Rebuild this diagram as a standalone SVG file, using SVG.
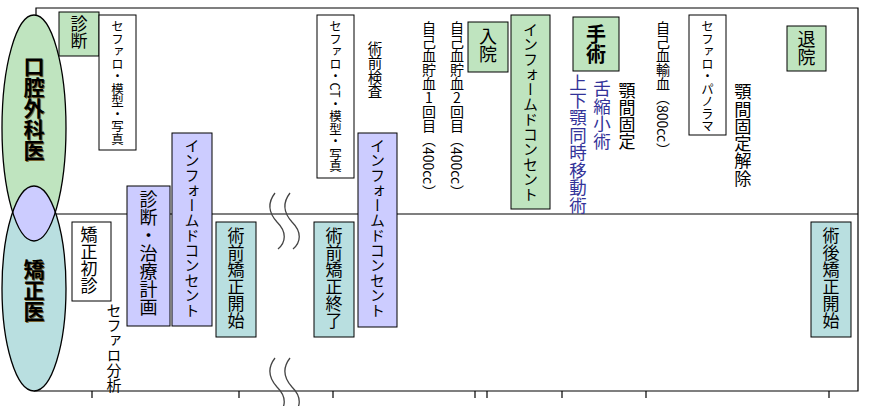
<svg xmlns="http://www.w3.org/2000/svg" width="875" height="406" viewBox="0 0 875 406">
<style>
.bx{stroke:#000;stroke-width:1}
.g{fill:#BFE4BF}
.p{fill:#CCCCFF}
.t{fill:#B9DFE0}
.w{fill:#fff}
.v{writing-mode:vertical-rl;font-family:"Noto Sans CJK JP","Noto Sans CJK SC",sans-serif;fill:#000}
.up{text-orientation:upright}
.blue{fill:#333399}
.ln{stroke:#000;stroke-width:1.2;fill:none}
.wave{stroke:#444;stroke-width:1.3;fill:none}
.head{font-weight:bold;font-size:21px}
</style>
<defs>
<clipPath id="topClip"><ellipse cx="34" cy="128" rx="32" ry="113"/></clipPath>
</defs>
<rect width="875" height="406" fill="#fff"/>
<g id="frame">
<polyline class="ln" points="36,16 36,8 858,8 858,391 34,391"/>
<line class="ln" x1="55" y1="214" x2="858" y2="214"/>
<g class="ln">
<line x1="92" y1="391" x2="92" y2="398"/>
<line x1="239" y1="391" x2="239" y2="398"/>
<line x1="333" y1="391" x2="333" y2="398"/>
<line x1="475" y1="391" x2="475" y2="398"/>
<line x1="487" y1="391" x2="487" y2="398"/>
<line x1="562" y1="391" x2="562" y2="398"/>
<line x1="646" y1="391" x2="646" y2="398"/>
<line x1="829" y1="391" x2="829" y2="398"/>
</g>
</g>
<g id="connectors">
<path class="wave" d="M275,193 C268,202 268,212 277,222 C287,232 286,242 278,249"/>
<path class="wave" d="M290,193 C283,202 283,212 292,222 C302,232 301,242 293,249"/>
<path class="wave" d="M275,358 C268,367 268,377 277,387 C287,397 286,407 278,414"/>
<path class="wave" d="M290,358 C283,367 283,377 292,387 C302,397 301,407 293,414"/>
</g>
<g id="roles">
<ellipse cx="34" cy="128" rx="32" ry="113" fill="#BFE4BF"/>
<ellipse cx="34" cy="288.5" rx="32" ry="102.5" fill="#B9DFE0"/>
<ellipse cx="34" cy="288.5" rx="32" ry="102.5" fill="#CCCCFF" clip-path="url(#topClip)"/>
<ellipse cx="34" cy="128" rx="32" ry="113" fill="none" stroke="#000" stroke-width="1.3"/>
<ellipse cx="34" cy="288.5" rx="32" ry="102.5" fill="none" stroke="#000" stroke-width="1.3"/>
<g id="oral-surgeon"><text class="v head" x="35" y="57" fill="#7a6530" style="fill:#7a6530">口腔外科医</text><text class="v head" x="34" y="56">口腔外科医</text></g>
<g id="orthodontist"><text class="v head" x="35" y="260" style="fill:#7a6530">矯正医</text><text class="v head" x="34" y="259">矯正医</text></g>
</g>
<g id="n-shindan"><rect class="bx g" x="59" y="12" width="40" height="44"/><text class="v" x="79" y="15" font-size="17">診断</text></g>
<g id="n-ceph1"><rect class="bx w" x="99" y="15" width="37" height="135"/><text class="v" x="117.5" y="20" font-size="12.5">セファロ・模型・写真</text></g>
<g id="n-kyosei-shoshin"><rect class="bx w" x="72" y="222" width="39" height="79"/><text class="v" x="89" y="226" font-size="17">矯正初診</text></g>
<g id="n-ceph-bunseki"><text class="v" x="114" y="303" font-size="15">セファロ分析</text></g>
<g id="n-keikaku"><rect class="bx p" x="127" y="186" width="43" height="140"/><text class="v" x="148.5" y="190" font-size="18">診断・治療計画</text></g>
<g id="n-ic1"><rect class="bx p" x="172" y="133" width="40" height="193"/><text class="v" x="192" y="138" font-size="15">インフォームドコンセント</text></g>
<g id="n-jutsuzen-kaishi"><rect class="bx t" x="216" y="222" width="40" height="115"/><text class="v" x="236" y="227" font-size="17">術前矯正開始</text></g>
<g id="n-ceph2"><rect class="bx w" x="317" y="15" width="37" height="163"/><text class="v" x="335.5" y="20" font-size="12.5">セファロ・CT・模型・写真</text></g>
<g id="n-jutsuzen-shuryo"><rect class="bx t" x="314" y="222" width="40" height="115"/><text class="v" x="334" y="227" font-size="17">術前矯正終了</text></g>
<g id="n-jutsuzen-kensa"><text class="v" x="375" y="41" font-size="14.5">術前検査</text></g>
<g id="n-ic2"><rect class="bx p" x="358" y="133" width="39" height="194"/><text class="v" x="377.5" y="138" font-size="15">インフォームドコンセント</text></g>
<g id="n-choketsu1"><text class="v up" x="429" y="21" font-size="14">自己血貯血1回目</text><text class="v" x="429" y="133" font-size="14">（400cc）</text></g>
<g id="n-choketsu2"><text class="v up" x="457" y="21" font-size="14">自己血貯血2回目</text><text class="v" x="457" y="133" font-size="14">（400cc）</text></g>
<g id="n-nyuin"><rect class="bx g" x="468" y="22" width="40" height="50"/><text class="v" x="488" y="27" font-size="18">入院</text></g>
<g id="n-ic3"><rect class="bx g" x="511" y="15" width="39" height="194"/><text class="v" x="530.5" y="22" font-size="15">インフォームドコンセント</text></g>
<g id="n-shujutsu"><rect class="bx g" x="573" y="17" width="46" height="54"/><text class="v" x="596" y="24" font-size="20" font-weight="bold">手術</text></g>
<g id="n-idou"><text class="v blue" x="578" y="74" font-size="17.5">上下顎同時移動術</text></g>
<g id="n-shukushou"><text class="v blue" x="602" y="80" font-size="17.5">舌縮小術</text></g>
<g id="n-kotei"><text class="v" x="627" y="82" font-size="17">顎間固定</text></g>
<g id="n-yuketsu"><text class="v" x="663" y="21" font-size="14">自己血輸血</text><text class="v" x="663" y="91" font-size="14">（800cc）</text></g>
<g id="n-ceph3"><rect class="bx w" x="689" y="15" width="37" height="120"/><text class="v" x="707.5" y="20" font-size="12.5">セファロ・パノラマ</text></g>
<g id="n-kotei-kaijo"><text class="v" x="743" y="83" font-size="17.3">顎間固定解除</text></g>
<g id="n-taiin"><rect class="bx g" x="787" y="26" width="39" height="45"/><text class="v" x="806.5" y="30" font-size="18">退院</text></g>
<g id="n-jutsugo-kaishi"><rect class="bx t" x="811" y="222" width="40" height="115"/><text class="v" x="831" y="227" font-size="17">術後矯正開始</text></g>
</svg>
